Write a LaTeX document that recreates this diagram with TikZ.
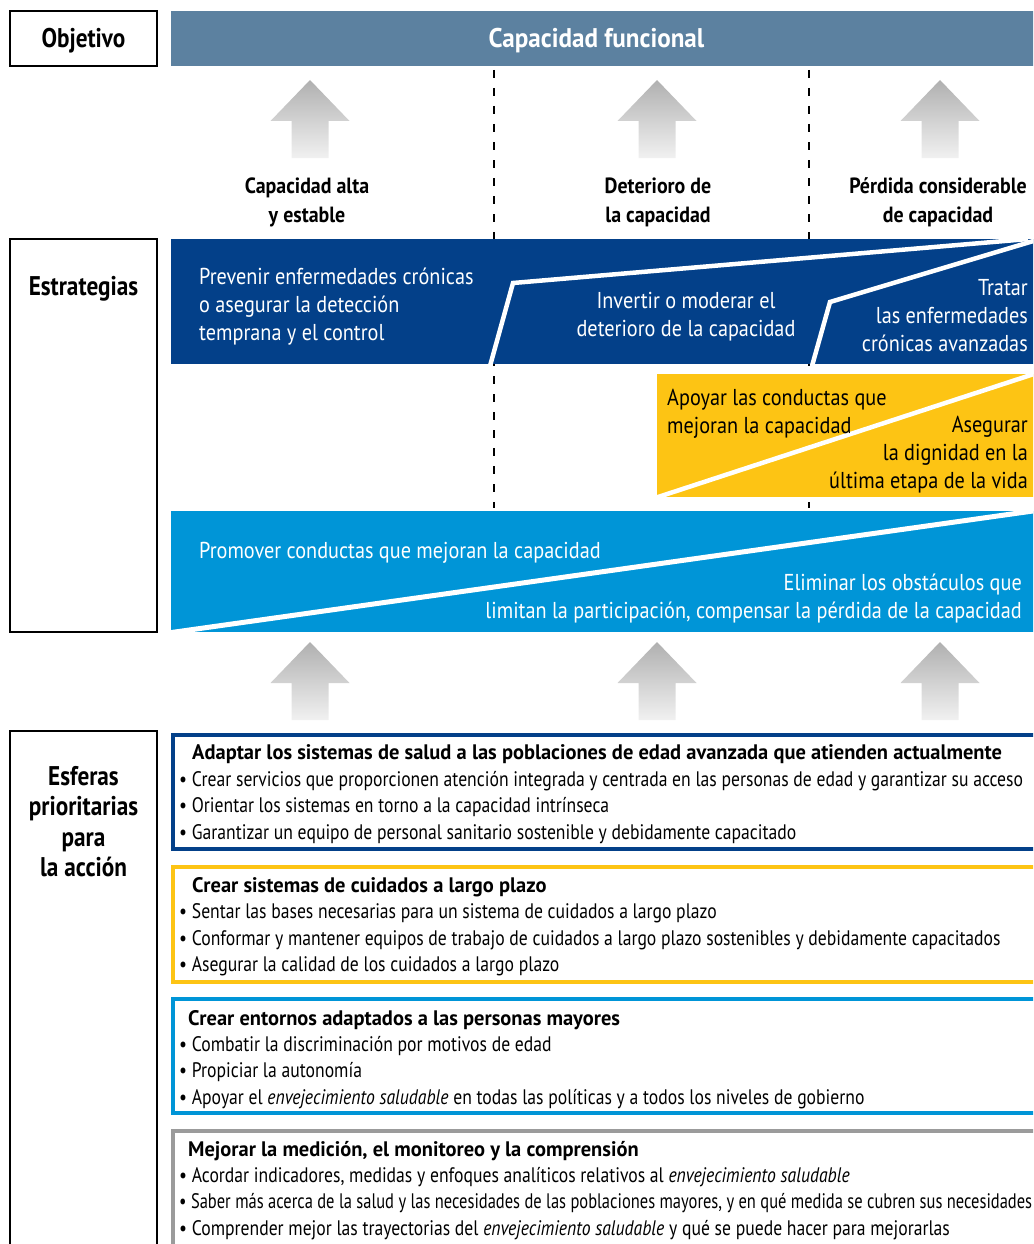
\documentclass[tikz,border=0pt]{standalone}
\usepackage{fontspec}
\setmainfont{PT Sans}[FakeStretch=0.88]
\newfontfamily\hdrfont{PT Sans}[FakeStretch=0.86]
\newfontfamily\labfont{PT Sans}[FakeStretch=0.905]
\newfontfamily\cffont{PT Sans}[FakeStretch=0.93]
\newfontfamily\bulfont{PT Sans}[FakeStretch=0.84]
\newfontfamily\bultight{PT Sans}[FakeStretch=0.785]
\newfontfamily\ttlfont{PT Sans}[FakeStretch=0.975]
\definecolor{banner}{RGB}{92,129,160}
\definecolor{dblue}{RGB}{3,64,137}
\definecolor{yel}{RGB}{253,196,20}
\definecolor{lblue}{RGB}{0,149,215}
\definecolor{gborder}{RGB}{155,155,155}
\definecolor{arrtop}{RGB}{176,176,176}
\definecolor{arrbot}{RGB}{241,241,241}
\begin{document}
\begin{tikzpicture}[x=1pt,y=-1pt,
  hdr/.style={font=\hdrfont\fontsize{27}{30}\selectfont\bfseries, inner sep=0pt, anchor=base},
  lab/.style={font=\labfont\fontsize{22}{26}\selectfont\bfseries, inner sep=0pt, anchor=base},
  wt/.style={font=\fontsize{23}{28}\selectfont, text=white, inner sep=0pt},
  bk/.style={font=\fontsize{23}{28}\selectfont, text=black, inner sep=0pt},
  sidebox/.style={draw=black, line width=1.8pt},
  ttl/.style={font=\ttlfont\fontsize{21}{24}\selectfont\bfseries, inner sep=0pt, anchor=base west},
  bul/.style={font=\bulfont\fontsize{21}{24}\selectfont, inner sep=0pt, anchor=base west},
  bult/.style={font=\bultight\fontsize{21}{24}\selectfont, inner sep=0pt, anchor=base west},
  dashline/.style={black, line width=1.2pt, dash pattern=on 8pt off 10pt},
  sep/.style={white, line width=4.5pt, line join=miter},
  garrow/.style={top color=arrtop, bottom color=arrbot, draw=none}
]
\useasboundingbox (0,0) rectangle (1033,1244);
\clip (0,0) rectangle (1033,1244);

% ---- dashed separators
\coordinate (d1t) at (494,70);  \coordinate (d1b) at (494,508);
\coordinate (d2t) at (809,70);  \coordinate (d2b) at (809,508);
\draw[dashline] (d1t) -- (d1b);
\draw[dashline] (d2t) -- (d2b);

% ---- Objetivo row
\draw[sidebox] (10,11) rectangle (157,66);
\node[hdr] (obj) at (83.5,48) {Objetivo};
\fill[banner] (171,11) rectangle (1040,66);
\node[hdr, font=\cffont\fontsize{27}{30}\selectfont\bfseries, text=white] (cf) at (596.5,48) {Capacidad funcional};

% ---- top arrows
\foreach \cx in {310,657,940}{
  \shade[garrow] (\cx,80) -- (\cx+39.5,121) -- (\cx+18.5,121) -- (\cx+18.5,158)
     -- (\cx-18.5,158) -- (\cx-18.5,121) -- (\cx-39.5,121) -- cycle;
}

\node[lab] (h1a) at (307,193) {Capacidad alta};
\node[lab] (h1b) at (307,222) {y estable};
\node[lab] (h2a) at (658,193) {Deterioro de};
\node[lab] (h2b) at (658,222) {la capacidad};
\node[lab] (h3a) at (938,193) {Pérdida considerable};
\node[lab] (h3b) at (938,222) {de capacidad};

% ---- Estrategias
\draw[sidebox] (10,239) rectangle (157,632);
\node[hdr] (est) at (83.5,295) {Estrategias};

\fill[dblue] (171,239) rectangle (1040,364);
\draw[sep] (490,366) -- (513,283) -- (1028,239);
\draw[sep] (812,366) -- (830,302) -- (1040,239);

\node[wt, anchor=base west] (p1) at (199,284) {Prevenir enfermedades crónicas};
\node[wt, anchor=base west] (p2) at (199,312) {o asegurar la detección};
\node[wt, anchor=base west] (p3) at (199,340) {temprana y el control};
\node[wt, anchor=base] (i1) at (686,308) {Invertir o moderar el};
\node[wt, anchor=base] (i2) at (686,336) {deterioro de la capacidad};
\node[wt, anchor=base east] (t1) at (1028,295) {Tratar};
\node[wt, anchor=base east] (t2) at (1028,323) {las enfermedades};
\node[wt, anchor=base east] (t3) at (1028,351) {crónicas avanzadas};

\fill[yel] (657,374) rectangle (1040,497);
\draw[sep] (655,498) -- (1040,372);
\node[bk, anchor=base west] (a1) at (667,405) {Apoyar las conductas que};
\node[bk, anchor=base west] (a2) at (667,433) {mejoran la capacidad};
\node[bk, anchor=base east] (s1) at (1028,432) {Asegurar};
\node[bk, anchor=base east] (s2) at (1028,460) {la dignidad en la};
\node[bk, anchor=base east] (s3) at (1028,488) {última etapa de la vida};

\fill[lblue] (171,511) rectangle (1040,632);
\draw[sep, line width=5pt] (168,633) -- (1040,510);
\node[wt, anchor=base west] (m1) at (199,558) {Promover conductas que mejoran la capacidad};
\node[wt, anchor=base east] (e1) at (1022,590) {Eliminar los obstáculos que};
\node[wt, anchor=base east] (e2) at (1022,618) {limitan la participación, compensar la pérdida de la capacidad};

% ---- bottom arrows
\foreach \cx in {310,657,940}{
  \shade[garrow] (\cx,642) -- (\cx+39.5,683) -- (\cx+18.5,683) -- (\cx+18.5,720)
     -- (\cx-18.5,720) -- (\cx-18.5,683) -- (\cx-39.5,683) -- cycle;
}

% ---- Esferas
\draw[sidebox] (10,731) rectangle (157,1260);
\node[hdr] (es1) at (83.5,785) {Esferas};
\node[hdr] (es2) at (83.5,815) {prioritarias};
\node[hdr] (es3) at (83.5,846) {para};
\node[hdr] (es4) at (83.5,876) {la acción};

\draw[draw=dblue, line width=4pt] (173,735) rectangle (1045,849);
\node[ttl] (g1) at (192,759) {Adaptar los sistemas de salud a las poblaciones de edad avanzada que atienden actualmente};
\node[bul] (g1a) at (179,786) {\textbullet\ Crear servicios que proporcionen atención integrada y centrada en las personas de edad y garantizar su acceso};
\node[bul] (g1b) at (179,812) {\textbullet\ Orientar los sistemas en torno a la capacidad intrínseca};
\node[bul] (g1c) at (179,839) {\textbullet\ Garantizar un equipo de personal sanitario sostenible y debidamente capacitado};

\draw[draw=yel, line width=4pt] (173,867) rectangle (1045,982);
\node[ttl] (g2) at (192,892) {Crear sistemas de cuidados a largo plazo};
\node[bul] (g2a) at (179,918) {\textbullet\ Sentar las bases necesarias para un sistema de cuidados a largo plazo};
\node[bul] (g2b) at (179,945) {\textbullet\ Conformar y mantener equipos de trabajo de cuidados a largo plazo sostenibles y debidamente capacitados};
\node[bul] (g2c) at (179,971) {\textbullet\ Asegurar la calidad de los cuidados a largo plazo};

\draw[draw=lblue, line width=4pt] (173,999) rectangle (1045,1113);
\node[ttl] (g3) at (188,1025) {Crear entornos adaptados a las personas mayores};
\node[bul] (g3a) at (179,1051) {\textbullet\ Combatir la discriminación por motivos de edad};
\node[bul] (g3b) at (179,1077) {\textbullet\ Propiciar la autonomía};
\node[bul] (g3c) at (179,1104) {\textbullet\ Apoyar el \textit{envejecimiento saludable} en todas las políticas y a todos los niveles de gobierno};

\draw[draw=gborder, line width=4pt] (173,1131) rectangle (1045,1260);
\node[ttl] (g4) at (188,1156) {Mejorar la medición, el monitoreo y la comprensión};
\node[bul] (g4a) at (179,1182) {\textbullet\ Acordar indicadores, medidas y enfoques analíticos relativos al \textit{envejecimiento saludable}};
\node[bult] (g4b) at (179,1208) {\textbullet\ Saber más acerca de la salud y las necesidades de las poblaciones mayores, y en qué medida se cubren sus necesidades};
\node[bul] (g4c) at (179,1235) {\textbullet\ Comprender mejor las trayectorias del \textit{envejecimiento saludable} y qué se puede hacer para mejorarlas};
\end{tikzpicture}
\end{document}
